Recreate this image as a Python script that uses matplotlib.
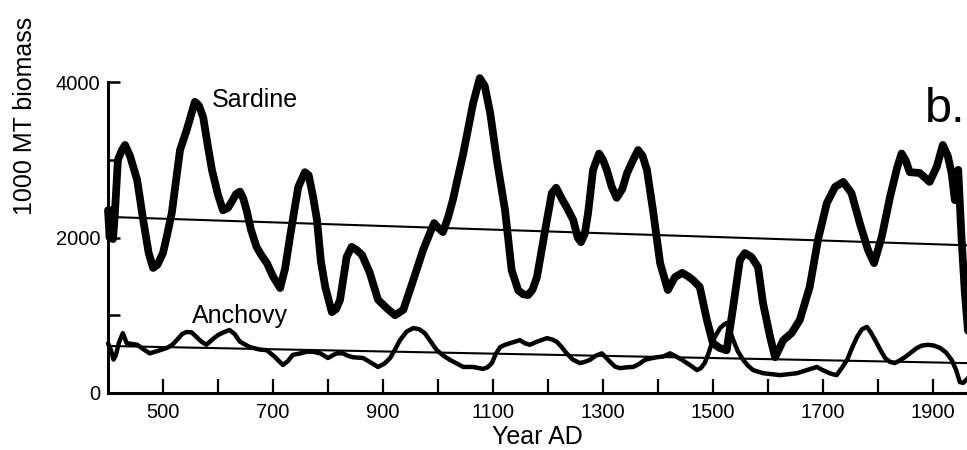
import matplotlib
matplotlib.use("Agg")
import matplotlib.pyplot as plt
from matplotlib.ticker import FixedLocator

plt.rcParams['font.family'] = ['Liberation Sans', 'DejaVu Sans']

sardine_years = [400, 403, 406, 409, 412, 418, 425, 431, 440, 453, 464, 474, 482, 490, 500, 508, 516, 524,
                 531, 543, 552, 558, 565, 573, 581, 589, 600, 609, 618, 625, 633, 640, 646, 652, 660, 670,
                 680, 689, 700, 713, 722, 731, 740, 746, 758, 765, 773, 780, 787, 795, 807, 815, 822, 834,
                 843, 852, 862, 876, 891, 907, 922, 937, 955, 973, 985, 993, 1001, 1009, 1018, 1027, 1046,
                 1064, 1076, 1085, 1095, 1107, 1122, 1134, 1146, 1155, 1164, 1172, 1180, 1195, 1207, 1215,
                 1225, 1234, 1246, 1254, 1260, 1267, 1273, 1282, 1293, 1300, 1307, 1316, 1325, 1335, 1344,
                 1355, 1364, 1372, 1380, 1391, 1404, 1418, 1431, 1444, 1455, 1464, 1476, 1489, 1500, 1512,
                 1525, 1536, 1549, 1558, 1570, 1582, 1591, 1604, 1613, 1628, 1643, 1658, 1676, 1691, 1707,
                 1722, 1737, 1752, 1767, 1782, 1793, 1807, 1822, 1835, 1843, 1850, 1858, 1876, 1894, 1907,
                 1918, 1927, 1934, 1940, 1946, 1952, 1958, 1965]
sardine_vals = [2350, 2000, 2350, 1980, 2250, 3000, 3120, 3190, 3050, 2740, 2225, 1800, 1608, 1650, 1800, 2050,
                2315, 2750, 3125, 3380, 3600, 3745, 3700, 3550, 3200, 2870, 2550, 2350, 2380, 2460, 2560, 2590,
                2500, 2350, 2100, 1880, 1760, 1670, 1500, 1350, 1600, 2010, 2400, 2650, 2840, 2800, 2520, 2225,
                1700, 1365, 1040, 1080, 1200, 1750, 1880, 1840, 1775, 1545, 1200, 1090, 1000, 1070, 1450, 1840,
                2050, 2185, 2120, 2070, 2250, 2480, 3080, 3730, 4050, 3950, 3600, 3000, 2350, 1580, 1320, 1270,
                1260, 1330, 1490, 2100, 2570, 2640, 2500, 2390, 2225, 2000, 1940, 2050, 2315, 2870, 3080, 3000,
                2870, 2650, 2510, 2620, 2830, 3000, 3125, 3050, 2870, 2350, 1670, 1325, 1490, 1545, 1500, 1450,
                1365, 940, 640, 580, 550, 1070, 1710, 1800, 1750, 1620, 1160, 720, 460, 680, 770, 940, 1365,
                1970, 2440, 2650, 2715, 2570, 2185, 1840, 1670, 2010, 2520, 2900, 3080, 3000, 2840, 2830, 2715,
                2910, 3190, 3050, 2830, 2480, 2870, 2000, 1300, 700]

anchovy_years = [400, 405, 410, 414, 420, 427, 434, 445, 453, 465, 476, 490, 507, 517, 525, 535, 543, 552, 561,
                 570, 579, 590, 600, 610, 621, 630, 640, 658, 675, 689, 704, 718, 727, 736, 750, 761, 773, 786,
                 800, 810, 816, 827, 836, 845, 864, 878, 891, 903, 913, 922, 931, 943, 955, 966, 976, 987, 998,
                 1010, 1022, 1034, 1046, 1064, 1082, 1090, 1098, 1105, 1113, 1122, 1131, 1140, 1149, 1158,
                 1167, 1180, 1198, 1207, 1216, 1225, 1234, 1245, 1258, 1267, 1276, 1287, 1298, 1305, 1313,
                 1322, 1331, 1343, 1355, 1365, 1376, 1387, 1398, 1410, 1422, 1433, 1444, 1458, 1471, 1478,
                 1485, 1492, 1498, 1505, 1513, 1520, 1525, 1530, 1536, 1545, 1555, 1564, 1573, 1591, 1622,
                 1653, 1671, 1689, 1698, 1707, 1716, 1725, 1735, 1744, 1753, 1762, 1771, 1780, 1787, 1795,
                 1804, 1813, 1822, 1831, 1840, 1849, 1860, 1871, 1880, 1891, 1902, 1913, 1924, 1934, 1942,
                 1949, 1955, 1965]
anchovy_vals = [640, 560, 430, 480, 650, 770, 640, 630, 620, 560, 510, 540, 580, 620, 680, 760, 785, 780, 720,
                660, 620, 690, 745, 780, 810, 760, 660, 590, 560, 550, 460, 360, 410, 490, 510, 530, 530, 510,
                450, 490, 510, 510, 480, 460, 450, 390, 335, 380, 450, 560, 680, 790, 835, 820, 770, 660, 550,
                480, 425, 380, 335, 335, 310, 330, 385, 500, 590, 620, 640, 660, 680, 640, 620, 660, 705, 690,
                660, 590, 510, 430, 385, 400, 425, 480, 510, 460, 400, 340, 320, 330, 335, 370, 425, 445, 460,
                470, 510, 470, 425, 360, 295, 320, 385, 510, 640, 740, 835, 880, 900, 820, 700, 540, 425, 350,
                295, 255, 230, 255, 295, 335, 300, 270, 245, 230, 330, 425, 580, 720, 820, 850, 780, 680, 560,
                450, 400, 385, 420, 460, 520, 580, 610, 620, 610, 580, 520, 425, 300, 140, 130, 200]

trend_years = [400, 1965]
sardine_trend = [2265, 1899]
anchovy_trend = [605, 384]

x_major = [500, 700, 900, 1100, 1300, 1500, 1700, 1900]
x_minor = [600, 800, 1000, 1200, 1400, 1600, 1800]
y_ticks = [0, 1000, 2000, 3000, 4000]
y_labels = ['0', '', '2000', '', '4000']

W, H = 967, 450
fig = plt.figure(figsize=(W / 100, H / 100), dpi=100)
ax = fig.add_axes([108 / W, (H - 393) / H, (W - 108) / W, 311 / H])

ax.plot(trend_years, sardine_trend, color='black', lw=1.5, clip_on=False)
ax.plot(trend_years, anchovy_trend, color='black', lw=1.5, clip_on=False)
ax.plot(sardine_years, sardine_vals, color='black', lw=5.6, solid_joinstyle='round',
        solid_capstyle='round', clip_on=False)
ax.plot(anchovy_years, anchovy_vals, color='black', lw=3.2, solid_joinstyle='round',
        solid_capstyle='round', clip_on=False)

ax.set_xlim(400, 1962)
ax.set_ylim(0, 4000)

for s in ['top', 'right']:
    ax.spines[s].set_visible(False)
ax.spines['left'].set_linewidth(2.2)
ax.spines['bottom'].set_linewidth(2.2)

ax.xaxis.set_major_locator(FixedLocator(x_major))
ax.xaxis.set_minor_locator(FixedLocator(x_minor))
ax.set_xticklabels([str(v) for v in x_major])
ax.set_yticks(y_ticks)
ax.set_yticklabels(y_labels)

ax.tick_params(axis='x', which='both', direction='in', length=10, width=1.6, pad=7, labelsize=14.5)
ax.tick_params(axis='y', which='both', direction='in', length=8.6, width=1.8, pad=5.5, labelsize=14.5)

ax.set_xlabel('Year AD', fontsize=18, labelpad=2)
fig.text(25 / W, 1 - 116 / H, '1000 MT biomass', rotation=90, fontsize=18, ha='center', va='center')

ax.text(589, 3680, 'Sardine', fontsize=18, ha='left', va='baseline')
ax.text(553, 900, 'Anchovy', fontsize=18, ha='left', va='baseline')
fig.text(925 / W, 1 - 122 / H, 'b.', fontsize=35, ha='left', va='baseline')

fig.savefig('out.png', dpi=100)
